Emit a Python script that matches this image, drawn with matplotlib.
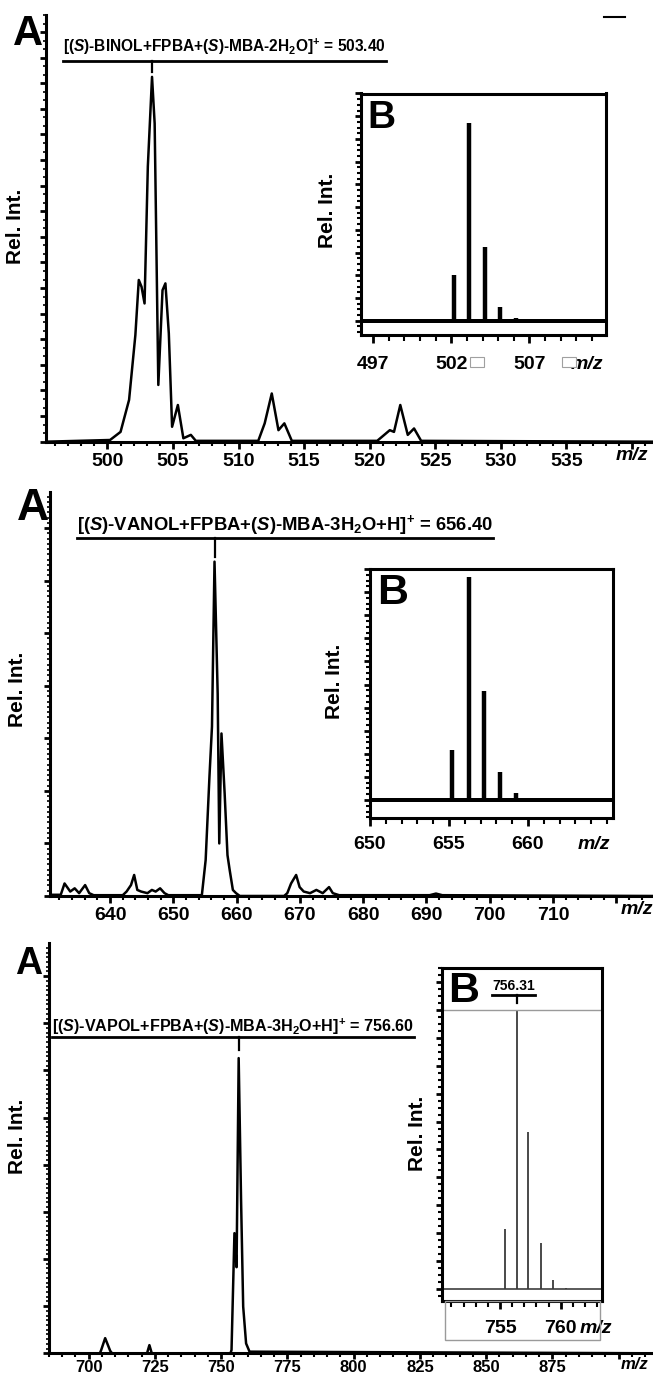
"""
Mass spectra of the three boronate assemblies (BINOL, VANOL, VAPOL)
Full scan (A) with isotope pattern inset (B)
"""

import matplotlib.pyplot as plt
from matplotlib.ticker import MultipleLocator
from matplotlib.transforms import blended_transform_factory
from matplotlib.patches import Rectangle
from matplotlib.lines import Line2D

plt.rcParams['font.family'] = ['Liberation Sans', 'DejaVu Sans']
plt.rcParams['font.weight'] = 'bold'
plt.rcParams['mathtext.fontset'] = 'custom'
plt.rcParams['mathtext.rm'] = 'Liberation Sans:bold'
plt.rcParams['mathtext.it'] = 'Liberation Sans:italic:bold'
plt.rcParams['mathtext.bf'] = 'Liberation Sans:bold'

# --- panel 1: (S)-BINOL, profile spectrum
binol_mz = [495.3, 500.2, 501.0, 501.65, 502.13, 502.39, 502.6, 502.83, 503.08, 503.4,
            503.6, 503.88, 504.2, 504.42, 504.68, 504.93, 505.37, 505.79, 506.36, 506.74,
            511.5, 511.99, 512.53, 513.04, 513.49, 514.06, 520.57, 521.53, 521.85, 522.33,
            522.9, 523.38, 523.92, 541.6]
binol_int = [0, 0.4, 2.3, 9.8, 25, 37.9, 36.3, 32.4, 64.5, 85.5,
             74.6, 13.3, 35.5, 37.1, 25.4, 3.5, 8.6, 0.8, 1.6, 0.2,
             0.2, 4.3, 11.3, 2.7, 4.3, 0.2, 0.2, 2.7, 2.3, 8.6,
             1.6, 3.1, 0.2, 0]
binol_ticks = [500, 505, 510, 515, 520, 525, 530, 535, 540]
binol_labels = ['500', '505', '510', '515', '520', '525', '530', '535', '']
binol_iso_mz = [502.14, 503.13, 504.15, 505.13, 506.15]
binol_iso_int = [20.1, 86.8, 32.6, 6.2, 1.1]
binol_iso_ticks = [497, 502, 507]

# --- panel 2: (S)-VANOL
vanol_mz = [630.5, 632.2, 632.8, 633.7, 634.4, 635.1, 636.05, 636.7, 637.4, 642.0,
            642.6, 643.3, 643.8, 644.3, 644.9, 645.9, 646.6, 647.2, 647.9, 648.6,
            649.2, 654.5, 655.1, 655.7, 656.1, 656.5, 657.0, 657.25, 657.6, 658.1,
            658.55, 658.9, 659.4, 659.9, 660.5, 667.5, 668.0, 668.6, 669.4, 669.95,
            670.6, 671.6, 672.6, 673.6, 674.6, 675.2, 676.2, 690.5, 691.5, 692.5, 725.8]
vanol_int = [0.3, 0.3, 3.1, 1.1, 1.9, 0.7, 2.7, 0.7, 0.2, 0.2,
             1.1, 2.7, 5.2, 1.5, 1.1, 0.7, 1.5, 1.1, 1.9, 0.7,
             0.2, 0.2, 8.9, 29.5, 41.9, 82.7, 50, 13, 40.2, 25.4,
             10.1, 6.4, 1.5, 0.7, 0, 0, 0.7, 3.1, 5.2, 2.2,
             1.1, 0.7, 1.5, 0.7, 2.2, 0.7, 0.2, 0.2, 0.6, 0.2, 0]
vanol_ticks = [640, 650, 660, 670, 680, 690, 700, 710, 720]
vanol_labels = ['640', '650', '660', '670', '680', '690', '700', '710', '']
vanol_iso_mz = [655.2, 656.25, 657.2, 658.25, 659.25]
vanol_iso_int = [21.7, 96.4, 47.1, 12.3, 2.9]
vanol_iso_ticks = [650, 655, 660]

# --- panel 3: (S)-VAPOL
vapol_mz = [685, 704.2, 704.7, 706.2, 708.1, 708.8, 722.0, 722.9, 723.8, 753.5,
            753.9, 755.0, 755.8, 756.6, 757.5, 758.3, 759.4, 760.7, 913]
vapol_int = [0, 0, 0.8, 3.7, 0.6, 0, 0, 2.0, 0, 0,
             0.8, 29.3, 21, 72, 37.4, 11.4, 2.4, 0.4, 0]
vapol_ticks = [700, 725, 750, 775, 800, 825, 850, 875, 900]
vapol_labels = ['700', '725', '750', '775', '800', '825', '850', '875', '']
vapol_iso_mz = [755.4, 756.4, 757.3, 758.4, 759.4, 760.4]
vapol_iso_int = [21.5, 99.4, 56.4, 16.7, 3.3, 0.6]
vapol_iso_ticks = [755, 760]

W, H = 653, 1380
fig = plt.figure(figsize=(W / 100, H / 100), dpi=100)


def px_rect(left, top, right, bottom):
    """Pixel box -> figure fraction rect"""
    return [left / W, 1 - bottom / H, (right - left) / W, (bottom - top) / H]


def draw_main(rect, mz, inten, xlim, ticks, labels, xminor, ymajor, yminor, ylab,
              fs=14, pad=3, tlen=5):
    ax = fig.add_axes(rect)
    ax.plot(mz, inten, color='black', lw=1.8)
    ax.set_xlim(xlim)
    ax.set_ylim(0, 100)
    for s in ['top', 'right']:
        ax.spines[s].set_visible(False)
    for s in ['left', 'bottom']:
        ax.spines[s].set_linewidth(2.2)
    ax.set_xticks(ticks, labels=labels)
    ax.xaxis.set_minor_locator(MultipleLocator(xminor))
    ax.yaxis.set_major_locator(MultipleLocator(ymajor))
    ax.yaxis.set_minor_locator(MultipleLocator(yminor))
    ax.tick_params(axis='x', which='major', direction='out', length=tlen, width=2,
                   labelsize=fs, pad=pad)
    ax.tick_params(axis='x', which='minor', direction='out', length=3, width=1.5)
    ax.tick_params(axis='y', which='major', direction='out', length=4, width=2, labelleft=False)
    ax.tick_params(axis='y', which='minor', direction='out', length=2, width=1.2)
    ax.set_ylabel('Rel. Int.', fontsize=15, fontweight='bold')
    ax.yaxis.set_label_coords(*ylab)
    return ax


def draw_inset(rect, mz, inten, xlim, ylim, ticks, color, lw, pad, ylab):
    ax = fig.add_axes(rect)
    ax.axhline(0, color=color, lw=lw * 0.9)
    ax.vlines(mz, 0, inten, color=color, lw=lw)
    ax.set_xlim(xlim)
    ax.set_ylim(ylim)
    for s in ax.spines.values():
        s.set_linewidth(2.2)
    ax.set_xticks(ticks, labels=[str(t) for t in ticks])
    ax.xaxis.set_minor_locator(MultipleLocator(1))
    ax.yaxis.set_major_locator(MultipleLocator(10))
    ax.yaxis.set_minor_locator(MultipleLocator(2.5))
    ax.tick_params(axis='x', which='major', direction='out', length=6, width=2,
                   labelsize=14, pad=pad)
    ax.tick_params(axis='x', which='minor', direction='out', length=4, width=1.5)
    ax.tick_params(axis='y', which='major', direction='out', length=4, width=2, labelleft=False)
    ax.tick_params(axis='y', which='minor', direction='out', length=3, width=1.5)
    ax.set_ylabel('Rel. Int.', fontsize=15, fontweight='bold')
    ax.yaxis.set_label_coords(*ylab)
    return ax


# panel 1
ax1 = draw_main(px_rect(45.8, 15, W, 441.7), binol_mz, binol_int, (495.3, 541.6),
                binol_ticks, binol_labels, 1, 6, 2, (-0.034, 0.504))
in1 = draw_inset(px_rect(360.7, 93.5, 606, 335), binol_iso_mz, binol_iso_int,
                 (496.2, 511.9), (-6.3, 100), binol_iso_ticks, 'black', 3.2, 9, (-0.095, 0.518))

# panel 2
ax2 = draw_main(px_rect(50, 491.7, W, 896), vanol_mz, vanol_int, (630.5, 725.8),
                vanol_ticks, vanol_labels, 2, 13, 1.3, (-0.038, 0.51))
in2 = draw_inset(px_rect(370, 569, 612.5, 818.3), vanol_iso_mz, vanol_iso_int,
                 (650, 665.35), (-7.9, 100), vanol_iso_ticks, 'black', 3.2, 7, (-0.108, 0.55))

# panel 3
ax3 = draw_main(px_rect(49, 943.3, W, 1353.3), vapol_mz, vapol_int, (685, 913),
                vapol_ticks, vapol_labels, 5, 11.5, 1.15, (-0.036, 0.528),
                fs=12, pad=1, tlen=4)
in3 = draw_inset(px_rect(441.7, 967.5, 602, 1301), vapol_iso_mz, vapol_iso_int,
                 (750.2, 763.4), (-4.2, 115.1), vapol_iso_ticks, '#3a3a3a', 1.3, 8, (-0.092, 0.504))
in3.axhline(100, color='#9a9a9a', lw=1)

# m/z labels next to the x ticks
for ax, x, fs in [(ax1, 540, 14), (ax2, 723.3, 14), (ax3, 906, 12)]:
    tr = blended_transform_factory(ax.transData, ax.transAxes)
    ax.text(x, -0.012 if fs == 14 else -0.01, 'm/z', transform=tr, ha='center', va='top',
            fontsize=fs, fontstyle='italic')

fig.canvas.draw()
r = fig.canvas.get_renderer()
for ax, x in [(in1, 510.7), (in2, 664.2), (in3, 762.9)]:
    lab = ax.xaxis.get_ticklabels()[0]
    bb = lab.get_window_extent(r)
    ycen = ax.transAxes.inverted().transform((0, (bb.y0 + bb.y1) / 2))[1]
    tr = blended_transform_factory(ax.transData, ax.transAxes)
    ax.text(x, ycen, 'm/z', transform=tr, ha='center', va='center', fontsize=14,
            fontstyle='italic', clip_on=False)

# panel letters
fig.text(12.5 / W, 1 - 45 / H, 'A', fontsize=30, fontweight='bold', va='baseline')
fig.text(16.7 / W, 1 - 520 / H, 'A', fontsize=32, fontweight='bold', va='baseline')
fig.text(14.6 / W, 1 - 974 / H, 'A', fontsize=27, fontweight='bold', va='baseline')
in1.text(0.026, 0.857, 'B', transform=in1.transAxes, fontsize=28, fontweight='bold',
         va='baseline')
in2.text(0.029, 0.859, 'B', transform=in2.transAxes, fontsize=31, fontweight='bold',
         va='baseline')
in3.text(0.04, 0.897, 'B', transform=in3.transAxes, fontsize=31, fontweight='bold',
         va='baseline')

# ion labels with underline and marker down to the peak
titles = [
    (ax1, r'[($\mathit{S}$)-BINOL+FPBA+($\mathit{S}$)-MBA-2H$_{2}$O]$^{+}$ = 503.40',
     0.029, 0.913, 11.2, 0.892, 503.4, 0.866),
    (ax2, r'[($\mathit{S}$)-VANOL+FPBA+($\mathit{S}$)-MBA-3H$_{2}$O+H]$^{+}$ = 656.40',
     0.045, 0.905, 13.3, 0.8846, 656.5, 0.839),
    (ax3, r'[($\mathit{S}$)-VAPOL+FPBA+($\mathit{S}$)-MBA-3H$_{2}$O+H]$^{+}$ = 756.60',
     0.005, 0.784, 11.6, 0.772, 756.6, 0.74),
]
texts = []
for ax, s, x, y, fs, uy, mx, my in titles:
    t = ax.text(x, y, s, transform=ax.transAxes, fontsize=fs, va='baseline', ha='left')
    texts.append((ax, t, uy, mx, my))
t3 = in3.text(0.449, 0.933, '756.31', transform=in3.transAxes, fontsize=10,
              va='baseline', ha='center')
texts.append((in3, t3, 0.918, 756.4, 0.894))

fig.canvas.draw()
for ax, t, uy, mx, my in texts:
    bb = t.get_window_extent(r)
    inv = ax.transAxes.inverted()
    x0 = inv.transform((bb.x0, 0))[0]
    x1 = inv.transform((bb.x1, 0))[0]
    ax.plot([x0, x1], [uy, uy], transform=ax.transAxes, color='black', lw=2, clip_on=False)
    tr = blended_transform_factory(ax.transData, ax.transAxes)
    ax.plot([mx, mx], [uy, my], transform=tr, color='black', lw=1.6, clip_on=False)

# scanner leftovers in the original figure
fig.add_artist(Line2D([604 / W, 625 / W], [1 - 16.7 / H] * 2, color='black', lw=1.5))
for x0 in [470, 562]:
    fig.add_artist(Rectangle((x0 / W, 1 - 367 / H), 14 / W, 10 / H, fc='white',
                             ec='#a0a0a0', lw=0.8))
fig.add_artist(Rectangle((445 / W, 1 - 1340 / H), 155 / W, 39 / H, fill=False,
                         ec='#9a9a9a', lw=1))

fig.savefig('out.png', dpi=100, facecolor='white')
